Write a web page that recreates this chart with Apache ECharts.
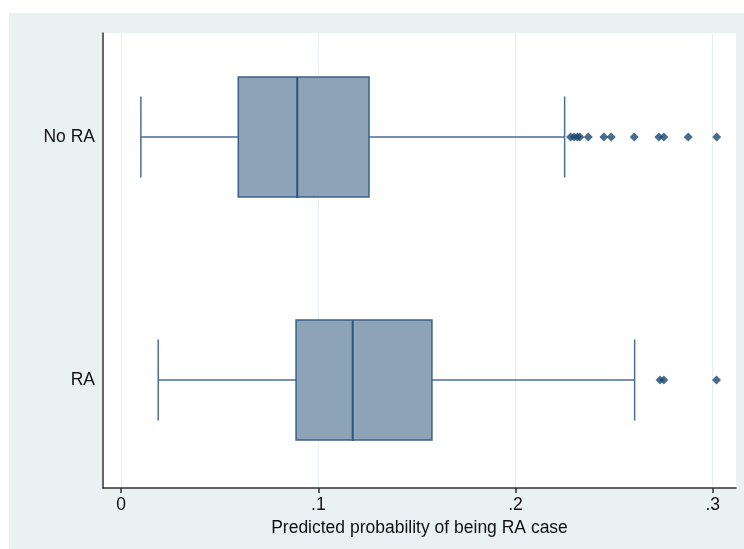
<!DOCTYPE html>
<html>
<head>
<meta charset="utf-8">
<script src="https://cdn.jsdelivr.net/npm/echarts@6/dist/echarts.min.js"></script>
<style>
  html, body { margin: 0; padding: 0; background: #fff; }
  #chart { width: 744px; height: 549px; }
</style>
</head>
<body>
<div id="chart"></div>
<script>
// Groups and their vertical positions on the hidden value axis
const groups = ['No RA', 'RA'];
const groupPos = [1, 0];

// Box statistics per group: [lower whisker, Q1, median, Q3, upper whisker]
const boxStats = [
  [0.0100, 0.0594, 0.0893, 0.1257, 0.2249],
  [0.0188, 0.0887, 0.1174, 0.1576, 0.2604]
];

// Outside values per group
const outliersNoRA = [0.2279, 0.2297, 0.2314, 0.2326, 0.2369, 0.2448, 0.2485, 0.2602, 0.2727, 0.2752, 0.2876, 0.3020];
const outliersRA = [0.2733, 0.2752, 0.3019];

// Tick values on the probability axis
const xTicks = [0, 0.1, 0.2, 0.3];
const xTitle = 'Predicted probability of being RA case';

const BOX_HALF = 0.247;   // half box height in axis units
const CAP_HALF = 0.167;   // half whisker-cap height in axis units
const FONT = 'Liberation Sans, Arial, sans-serif';

const boxData = groups.map((g, i) => [groupPos[i]].concat(boxStats[i]));
const outlierData = []
  .concat(outliersNoRA.map(v => [v, groupPos[0]]))
  .concat(outliersRA.map(v => [v, groupPos[1]]));

function renderBox(params, api) {
  const y = api.value(0);
  const lo = api.coord([api.value(1), y]);
  const q1 = api.coord([api.value(2), y]);
  const md = api.coord([api.value(3), y]);
  const q3 = api.coord([api.value(4), y]);
  const hi = api.coord([api.value(5), y]);
  const bh = api.size([0, BOX_HALF])[1];
  const ch = api.size([0, CAP_HALF])[1];
  const cy = lo[1];
  const whisk = { stroke: '#4a6e95', lineWidth: 1.5 };
  return {
    type: 'group',
    children: [
      { type: 'line', shape: { x1: lo[0], y1: cy, x2: q1[0], y2: cy }, style: whisk },
      { type: 'line', shape: { x1: q3[0], y1: cy, x2: hi[0], y2: cy }, style: whisk },
      { type: 'line', shape: { x1: lo[0], y1: cy - ch, x2: lo[0], y2: cy + ch }, style: whisk },
      { type: 'line', shape: { x1: hi[0], y1: cy - ch, x2: hi[0], y2: cy + ch }, style: whisk },
      { type: 'rect', shape: { x: q1[0], y: cy - bh, width: q3[0] - q1[0], height: 2 * bh },
        style: { fill: '#8ca3b8', stroke: '#3d6189', lineWidth: 1.5 } },
      { type: 'line', shape: { x1: md[0], y1: cy - bh, x2: md[0], y2: cy + bh + 1 },
        style: { stroke: '#2e5379', lineWidth: 2 } }
    ]
  };
}

const chart = echarts.init(document.getElementById('chart'), null, { renderer: 'canvas' });
chart.setOption({
  backgroundColor: '#ffffff',
  animation: false,
  graphic: [{
    type: 'rect', z: -10, silent: true,
    shape: { x: 9, y: 13, width: 735, height: 536 },
    style: { fill: '#eaf1f3' }
  }],
  grid: {
    left: 103, right: 8, top: 33, bottom: 61,
    show: true, backgroundColor: '#ffffff', borderWidth: 0
  },
  xAxis: {
    type: 'value',
    min: -0.0092,
    max: 0.3118,
    name: xTitle,
    nameLocation: 'middle',
    nameGap: 28,
    nameTextStyle: { fontFamily: FONT, fontSize: 17.5, color: '#111' },
    axisLine: { show: true, onZero: false, lineStyle: { color: '#333', width: 1.5 } },
    axisTick: { show: true, length: 5, customValues: xTicks, lineStyle: { color: '#333', width: 1.5 } },
    axisLabel: {
      customValues: xTicks,
      margin: 8,
      fontFamily: FONT, fontSize: 17.5, color: '#111',
      formatter: v => (Math.abs(v) < 1e-9 ? '0' : String(Math.round(v * 10) / 10).replace(/^0/, ''))
    },
    splitLine: { show: true, lineStyle: { color: '#e6eef0', width: 1 } }
  },
  yAxis: {
    type: 'value',
    min: -0.4444,
    max: 1.428,
    axisLine: { show: true, onZero: false, lineStyle: { color: '#333', width: 1.5 } },
    axisTick: { show: false },
    splitLine: { show: false },
    axisLabel: {
      customValues: groupPos,
      margin: 8,
      fontFamily: FONT, fontSize: 17.5, color: '#111',
      formatter: v => groups[groupPos.indexOf(Math.round(v))] || ''
    }
  },
  series: [
    {
      type: 'custom',
      renderItem: renderBox,
      encode: { x: [1, 2, 3, 4, 5], y: 0 },
      data: boxData,
      z: 2
    },
    {
      type: 'scatter',
      symbol: 'diamond',
      symbolSize: [9, 9],
      itemStyle: { color: '#1a476f' },
      data: outlierData,
      z: 3
    }
  ]
});
</script>
</body>
</html>
